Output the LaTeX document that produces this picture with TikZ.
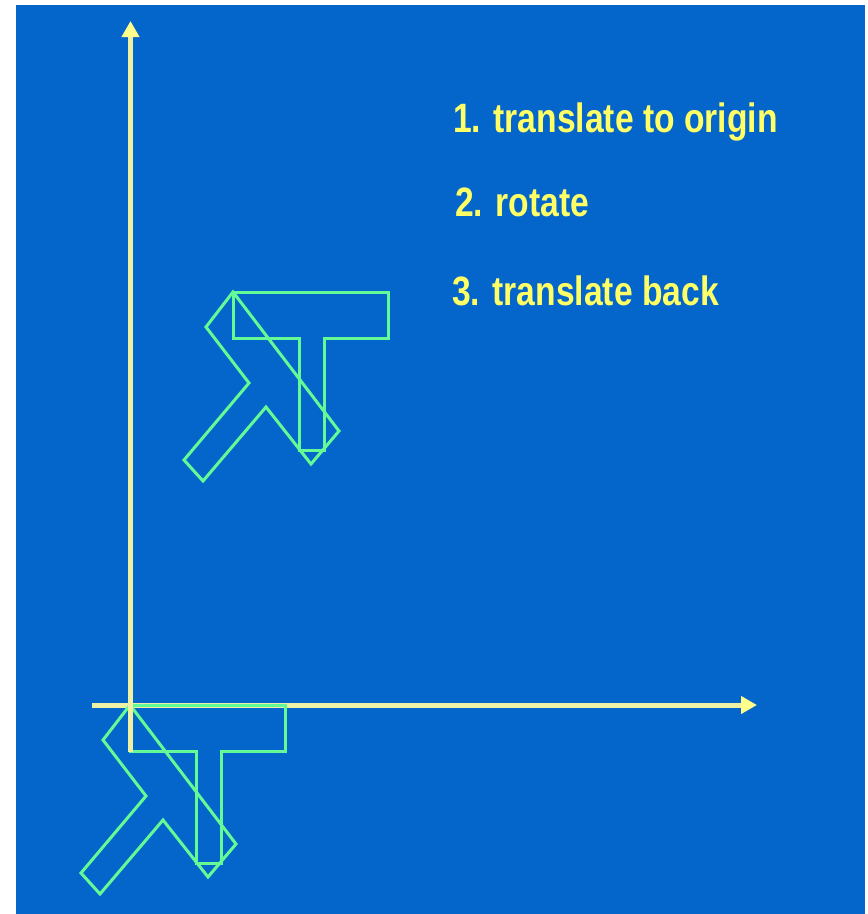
\documentclass[tikz,border=0pt]{standalone}
\usepackage{fontspec}
\newfontfamily\labelfont{Liberation Sans}[FakeStretch=0.82]
\usetikzlibrary{arrows.meta}

\definecolor{bgblue}{RGB}{4,102,202}
\definecolor{axiscol}{RGB}{240,240,165}
\definecolor{tipcol}{RGB}{255,255,140}
\definecolor{shapegreen}{RGB}{100,250,150}
\definecolor{textyellow}{RGB}{255,255,102}

\tikzset{
  axis/.style={draw=axiscol, line width=5pt,
    -{Triangle[length=16pt,width=17pt,fill=tipcol,color=tipcol]}},
  outline/.style={draw=shapegreen, line width=3pt, line join=miter},
  steplabel/.style={text=textyellow, inner sep=0pt, anchor=base west,
    font=\labelfont\bfseries\fontsize{41}{44}\selectfont},
}

\begin{document}
\begin{tikzpicture}[x=1pt, y=-1pt]
  % page and background panel
  \useasboundingbox[fill=white] (0,0) rectangle (868,914);
  \fill[bgblue] (16,5) rectangle (865,914);

  % x axis
  \coordinate (xstart) at (92,705);
  \coordinate (xend) at (757,705);
  \draw[axis] (xstart) -- (xend);

  % the T and its rotated copy, at the origin and translated
  \foreach \dx/\dy in {0/0, 103/-413} {
    \begin{scope}[shift={(\dx,\dy)}]
      \draw[outline] (130,705) -- (285,705) -- (285,751) -- (221,751)
        -- (221,863) -- (196,863) -- (196,751) -- (130,751) -- cycle;
      \draw[outline] (130,705) -- (236,844) -- (208,877) -- (163,820)
        -- (100,894) -- (81,873) -- (146,796) -- (103,740) -- cycle;
    \end{scope}
  }

  % y axis
  \coordinate (ystart) at (130.5,752);
  \coordinate (yend) at (130.5,21);
  \draw[axis] (ystart) -- (yend);

  % the three steps
  \node[steplabel] (step1) at (453,132) {1. translate to origin};
  \node[steplabel] (step2) at (455,216) {2. rotate};
  \node[steplabel] (step3) at (452,305) {3. translate back};
\end{tikzpicture}
\end{document}
